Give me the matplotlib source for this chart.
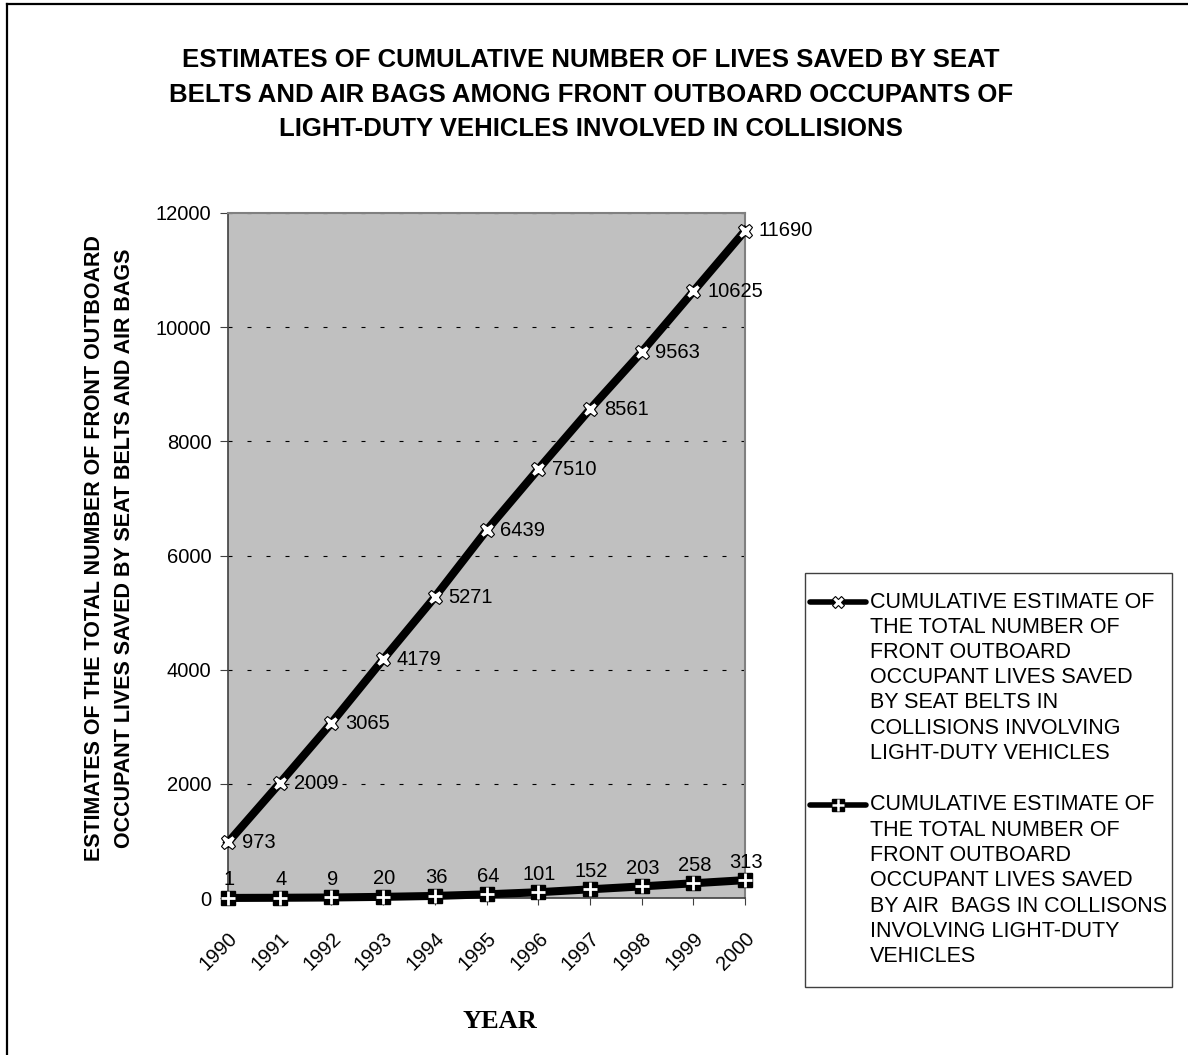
import matplotlib
matplotlib.use("Agg")
import matplotlib.pyplot as plt
from matplotlib.lines import Line2D
from matplotlib.patches import Rectangle
from matplotlib.transforms import ScaledTranslation

plt.rcParams["font.family"] = ["Liberation Sans", "DejaVu Sans"]

years = [1990, 1991, 1992, 1993, 1994, 1995, 1996, 1997, 1998, 1999, 2000]
seat_belts = [973, 2009, 3065, 4179, 5271, 6439, 7510, 8561, 9563, 10625, 11690]
air_bags = [1, 4, 9, 20, 36, 64, 101, 152, 203, 258, 313]

title_lines = ["ESTIMATES OF CUMULATIVE NUMBER OF LIVES SAVED BY SEAT",
               "BELTS AND AIR BAGS AMONG FRONT OUTBOARD OCCUPANTS OF",
               "LIGHT-DUTY VEHICLES INVOLVED IN COLLISIONS"]
ylabel_lines = ["ESTIMATES OF THE TOTAL NUMBER OF FRONT OUTBOARD",
                "OCCUPANT LIVES SAVED BY SEAT BELTS AND AIR BAGS"]
label_belts = ["CUMULATIVE ESTIMATE OF", "THE TOTAL NUMBER OF", "FRONT OUTBOARD",
               "OCCUPANT LIVES SAVED", "BY SEAT BELTS IN", "COLLISIONS INVOLVING",
               "LIGHT-DUTY VEHICLES"]
label_bags = ["CUMULATIVE ESTIMATE OF", "THE TOTAL NUMBER OF", "FRONT OUTBOARD",
              "OCCUPANT LIVES SAVED", "BY AIR  BAGS IN COLLISONS", "INVOLVING LIGHT-DUTY",
              "VEHICLES"]

W, H = 1188, 1055


def fx(px):
    return px / W


def fy(py):
    # pixel row (from top) -> figure fraction
    return 1 - py / H


fig = plt.figure(figsize=(W / 100, H / 100), dpi=100)
ax = fig.add_axes([fx(228), fy(898), fx(745) - fx(228), fy(213) - fy(898)])
ax.set_facecolor("#c0c0c0")

LW = 5.8
# seat belts: thick line, white x markers
ax.plot(years, seat_belts, color="black", lw=LW, zorder=3, clip_on=False)
ax.plot(years, seat_belts, ls="none", marker="X", ms=10.5, mfc="white",
        mec="black", mew=0.8, zorder=4, clip_on=False)
# air bags: thick line, black squares with white plus
ax.plot(years, air_bags, color="black", lw=LW, zorder=3, clip_on=False)
ax.plot(years, air_bags, ls="none", marker="s", ms=10, mfc="black",
        mec="black", zorder=4, clip_on=False)
ax.plot(years, air_bags, ls="none", marker="+", ms=10, mec="white",
        mew=2.0, zorder=5, clip_on=False)

for x, y in zip(years, seat_belts):
    ax.annotate(str(y), (x, y), xytext=(10, 0), textcoords="offset points",
                ha="left", va="center", fontsize=14.5)
for x, y in zip(years, air_bags):
    ax.annotate(str(y), (x, y), xytext=(1, 13), textcoords="offset points",
                ha="center", va="center", fontsize=14.5)

ax.set_xlim(1990, 2000)
ax.set_ylim(0, 12000)
ax.set_yticks(range(0, 12001, 2000))
ax.set_xticks(years)
ax.set_xticklabels([str(y) for y in years], rotation=45, ha="right",
                   rotation_mode="anchor")
shift = ScaledTranslation(-14 / 100, 0, fig.dpi_scale_trans)
for lab in ax.get_xticklabels():
    lab.set_transform(lab.get_transform() + shift)
ax.tick_params(axis="x", length=5, direction="out", pad=17, labelsize=14.5,
               color="#404040")
ax.tick_params(axis="y", length=6, direction="out", labelsize=14.5, pad=6,
               color="#404040")
ax.yaxis.grid(True, color="black", lw=0.8, ls=(0, (3.6, 13.5)))
ax.set_axisbelow(True)
for side in ("top", "right"):
    ax.spines[side].set_color("#808080")
    ax.spines[side].set_linewidth(1.5)
for side in ("left", "bottom"):
    ax.spines[side].set_color("#404040")
    ax.spines[side].set_linewidth(1.2)

# title, one text per line
for i, line in enumerate(title_lines):
    fig.text(fx(591), fy(60 + i * 34.5), line, ha="center", va="center",
             fontsize=18.5, fontweight="bold")

# y axis label, two rotated lines
for i, line in enumerate(ylabel_lines):
    fig.text(fx(95 + i * 30), fy(548), line, ha="center", va="center",
             rotation=90, fontsize=15.5, fontweight="bold")

fig.text(fx(500), fy(1021), "YEAR", ha="center", va="center", fontsize=19,
         fontweight="bold", family="Liberation Serif")

# legend box drawn by hand so the handle sits on the first text line
fig.add_artist(Rectangle((fx(805), fy(987)), fx(1172) - fx(805), fy(573) - fy(987),
                         transform=fig.transFigure, fill=False,
                         edgecolor="#404040", lw=1.0))


def legend_entry(y0, lines, markers):
    fig.add_artist(Line2D([fx(810), fx(866)], [fy(y0), fy(y0)], color="black",
                          lw=4, solid_capstyle="round", transform=fig.transFigure))
    for kw in markers:
        fig.add_artist(Line2D([fx(838)], [fy(y0)], ls="none",
                              transform=fig.transFigure, **kw))
    for i, line in enumerate(lines):
        fig.text(fx(870), fy(y0 + i * 25.25), line, ha="left", va="center",
                 fontsize=15.5)


legend_entry(602, label_belts,
             [dict(marker="X", ms=9, mfc="white", mec="black", mew=0.8)])
legend_entry(805, label_bags,
             [dict(marker="s", ms=9, mfc="black", mec="black"),
              dict(marker="+", ms=9, mec="white", mew=1.8)])

# outer border (top and left only)
fig.add_artist(Line2D([fx(6.5), fx(6.5)], [0.0, fy(4)], color="black", lw=1.6,
                      transform=fig.transFigure))
fig.add_artist(Line2D([fx(6.5), 1.0], [fy(4), fy(4)], color="black", lw=1.6,
                      transform=fig.transFigure))

fig.savefig("out.png", dpi=100)
